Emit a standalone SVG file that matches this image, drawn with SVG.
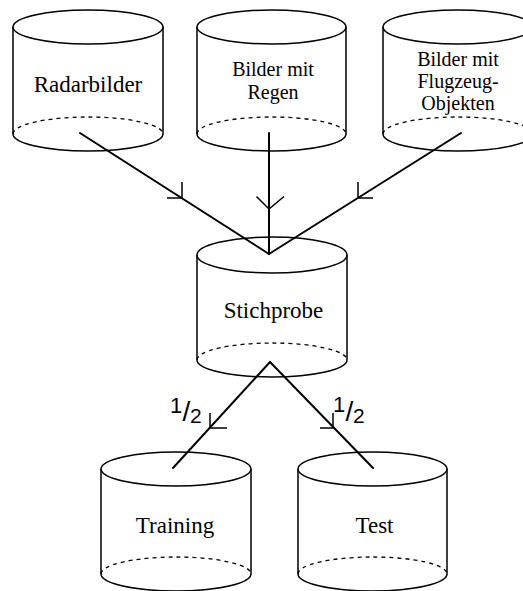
<svg xmlns="http://www.w3.org/2000/svg" width="523" height="591" viewBox="0 0 523 591">
  <style>
    .cyl { fill: none; stroke: #000; stroke-width: 1.5; }
    .back { fill: none; stroke: #000; stroke-width: 1.3; stroke-dasharray: 4 4; }
    .label { font-family: "Liberation Serif", "Times New Roman", serif; fill: #000; text-anchor: middle; }
    .big { font-size: 23px; }
    .small { font-size: 20px; }
    .edge { fill: none; stroke: #000; stroke-width: 2; stroke-linecap: round; }
    .tick { fill: none; stroke: #000; stroke-width: 1.5; }
    .frac { font-family: "Liberation Sans", Arial, sans-serif; fill: #000; }
  </style>
  <rect width="523" height="591" fill="#fff"/>

  <!-- data stores drawn as cylinders: top ellipse, two sides, bottom rim (front solid, back dashed) -->
  <g id="radarbilder">
    <ellipse class="cyl" cx="88" cy="27" rx="75" ry="17"/>
    <path class="cyl" d="M13,27 V134 M163,27 V134 M13,134 A75,17 0 0 0 163,134"/>
    <path class="back" d="M13,134 A75,17 0 0 1 163,134"/>
    <text class="label big" x="88" y="92">Radarbilder</text>
  </g>

  <g id="bilder-regen">
    <ellipse class="cyl" cx="271.5" cy="27" rx="74.5" ry="17"/>
    <path class="cyl" d="M197,27 V134 M346,27 V134 M197,134 A74.5,17 0 0 0 346,134"/>
    <path class="back" d="M197,134 A74.5,17 0 0 1 346,134"/>
    <text class="label small" x="273" y="76">Bilder mit</text>
    <text class="label small" x="273" y="99">Regen</text>
  </g>

  <g id="bilder-flugzeug">
    <ellipse class="cyl" cx="458" cy="27" rx="75" ry="17"/>
    <path class="cyl" d="M383,27 V134 M533,27 V134 M383,134 A75,17 0 0 0 533,134"/>
    <path class="back" d="M383,134 A75,17 0 0 1 533,134"/>
    <text class="label small" x="458" y="66">Bilder mit</text>
    <text class="label small" x="458" y="88">Flugzeug-</text>
    <text class="label small" x="458" y="110">Objekten</text>
  </g>

  <g id="stichprobe">
    <ellipse class="cyl" cx="272" cy="255" rx="75" ry="18"/>
    <path class="cyl" d="M197,255 V360 M347,255 V360 M197,360 A75,17 0 0 0 347,360"/>
    <path class="back" d="M197,360 A75,17 0 0 1 347,360"/>
    <text class="label big" x="273.5" y="318">Stichprobe</text>
  </g>

  <g id="training">
    <ellipse class="cyl" cx="176" cy="469" rx="75" ry="17"/>
    <path class="cyl" d="M101,469 V574 M251,469 V574 M101,574 A75,17 0 0 0 251,574"/>
    <path class="back" d="M101,574 A75,17 0 0 1 251,574"/>
    <text class="label big" x="175" y="533">Training</text>
  </g>

  <g id="test">
    <ellipse class="cyl" cx="372.5" cy="469" rx="74.5" ry="17"/>
    <path class="cyl" d="M298,469 V574 M447,469 V574 M298,574 A74.5,17 0 0 0 447,574"/>
    <path class="back" d="M298,574 A74.5,17 0 0 1 447,574"/>
    <text class="label big" x="374.5" y="533">Test</text>
  </g>

  <!-- flows between the stores, with their direction marks and split ratios -->
  <g id="connectors">
    <path class="edge" d="M80,133 L269,254"/>
    <path class="tick" d="M182,182 V198 H167"/>

    <path class="edge" d="M269,133 V254"/>
    <path class="tick" d="M256.5,196.5 L269,209 L284,196.5"/>

    <path class="edge" d="M461,133 L269,254"/>
    <path class="tick" d="M358,182 V198 H373"/>

    <path class="edge" d="M270,362 L173,468"/>
    <path class="tick" d="M210,413 V428 H227"/>

    <path class="edge" d="M270,362 L373,468"/>
    <path class="tick" d="M333,413 V428 H320"/>

    <text class="frac"><tspan x="170" y="413" font-size="22">1</tspan><tspan x="182.5" y="421" font-size="28">/</tspan><tspan x="190" y="423" font-size="21">2</tspan></text>
    <text class="frac"><tspan x="333" y="412" font-size="22">1</tspan><tspan x="345.5" y="421" font-size="28">/</tspan><tspan x="353" y="423" font-size="21">2</tspan></text>
  </g>
</svg>
